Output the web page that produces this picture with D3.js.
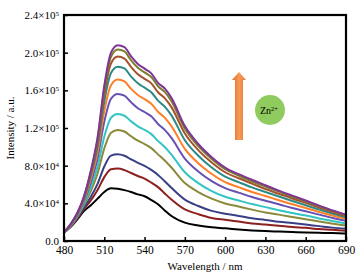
<!DOCTYPE html>
<html>
<head>
<style>
  body, html { margin: 0; padding: 0; background: #fff; }
  svg text { font-family: "Liberation Serif", "DejaVu Serif", serif; }
</style>
</head>
<body>
<svg id="svg" width="364" height="280"></svg>
<script src="https://d3js.org/d3.v7.min.js"></script>
<script>
// wavelengths (nm)
const wavelengths = [480, 485, 490, 495, 500, 505, 510, 515, 520, 525, 530, 535, 540, 545, 550,
  555, 560, 570, 580, 590, 600, 610, 620, 630, 640, 650, 660, 670, 680, 690]

// intensities, in units of 1e4 a.u., lowest (no Zn2+) to highest
const s0 = [0.9, 1.5, 2.3, 3.2, 3.8, 4.5, 5.2, 5.6, 5.55, 5.4, 5.2, 4.95, 4.75, 4.35, 3.9, 3.25, 2.65, 1.95, 1.65, 1.45, 1.35, 1.22, 1.12, 1.05, 1.0, 0.95, 0.9, 0.87, 0.84, 0.8]
const s1 = [0.9, 1.54, 2.4, 3.42, 4.32, 5.41, 6.78, 7.62, 7.69, 7.53, 7.22, 6.9, 6.62, 6.2, 5.72, 5.05, 4.4, 3.35, 2.85, 2.45, 2.25, 2.06, 1.87, 1.75, 1.63, 1.49, 1.4, 1.27, 1.2, 1.1]
const s2 = [0.9, 1.57, 2.47, 3.58, 4.69, 6.06, 7.91, 9.06, 9.21, 9.05, 8.66, 8.3, 7.98, 7.55, 7.02, 6.35, 5.65, 4.4, 3.72, 3.2, 2.9, 2.66, 2.41, 2.24, 2.04, 1.9, 1.74, 1.58, 1.42, 1.3]
const s3 = [0.9, 1.62, 2.59, 3.86, 5.32, 7.17, 9.83, 11.5, 11.8, 11.63, 11.12, 10.65, 10.3, 9.86, 9.2, 8.55, 7.8, 6.15, 5.2, 4.5, 3.99, 3.66, 3.33, 3.02, 2.8, 2.55, 2.3, 2.07, 1.84, 1.64]
const s4 = [0.9, 1.66, 2.66, 4.03, 5.72, 7.88, 11.08, 13.09, 13.48, 13.3, 12.7, 12.18, 11.8, 11.35, 10.63, 9.98, 9.18, 7.3, 6.15, 5.3, 4.7, 4.3, 3.92, 3.6, 3.26, 2.97, 2.7, 2.4, 2.12, 1.86]
const s5 = [0.9, 1.7, 2.76, 4.26, 6.24, 8.79, 12.66, 15.1, 15.62, 15.43, 14.72, 14.1, 13.7, 13.24, 12.43, 11.8, 10.95, 8.75, 7.38, 6.36, 5.61, 5.14, 4.67, 4.28, 3.9, 3.5, 3.16, 2.8, 2.45, 2.14]
const s6 = [0.9, 1.73, 2.83, 4.42, 6.61, 9.44, 13.79, 16.54, 17.14, 16.95, 16.15, 15.5, 15.06, 14.58, 13.72, 13.1, 12.2, 9.78, 8.25, 7.12, 6.25, 5.72, 5.21, 4.78, 4.33, 3.9, 3.5, 3.08, 2.7, 2.35]
const s7 = [0.9, 1.76, 2.9, 4.56, 6.95, 10.03, 14.81, 17.84, 18.51, 18.32, 17.45, 16.75, 16.28, 15.8, 14.9, 14.27, 13.34, 10.7, 9.05, 7.8, 6.83, 6.25, 5.69, 5.2, 4.72, 4.25, 3.8, 3.34, 2.92, 2.52]
const s8 = [0.9, 1.78, 2.94, 4.67, 7.2, 10.48, 15.6, 18.85, 19.58, 19.38, 18.46, 17.7, 17.22, 16.74, 15.8, 15.18, 14.22, 11.42, 9.65, 8.34, 7.3, 6.66, 6.1, 5.52, 5.02, 4.52, 4.05, 3.54, 3.08, 2.66]
const s9 = [0.9, 1.79, 2.98, 4.75, 7.39, 10.8, 16.16, 19.57, 20.34, 20.14, 19.18, 18.4, 17.9, 17.42, 16.43, 15.83, 14.85, 11.93, 10.08, 8.7, 7.62, 6.95, 6.32, 5.78, 5.24, 4.7, 4.22, 3.68, 3.2, 2.76]
const s10 = [0.9, 1.8, 3.0, 4.8, 7.5, 11.0, 16.5, 20.0, 20.8, 20.6, 19.6, 18.8, 18.3, 17.8, 16.8, 16.2, 15.2, 12.2, 10.3, 8.9, 7.8, 7.1, 6.5, 5.92, 5.35, 4.82, 4.3, 3.76, 3.25, 2.8]

const series = [s0, s1, s2, s3, s4, s5, s6, s7, s8, s9, s10]
const colors = ['#000000', '#8e1f1f', '#3a3f85', '#8a8a3a', '#33c4c4', '#6650b4',
  '#ff7f27', '#2c8a86', '#a5522c', '#7d7d2e', '#7e3596']

const xTicks = [480, 510, 540, 570, 600, 630, 660, 690]
const yTicks = [0, 4, 8, 12, 16, 20, 24]
const yTickMantissa = ['0.0', '4.0', '8.0', '1.2', '1.6', '2.0', '2.4']
const yTickExp = ['', '4', '4', '5', '5', '5', '5']

const svg = d3.select('#svg')
const mLeft = 64, mRight = 346, mTop = 15, mBottom = 241

const x = d3.scaleLinear().domain([480, 690]).range([mLeft, mRight])
const y = d3.scaleLinear().domain([0, 24]).range([mBottom, mTop])

// curves
const line = d3.line()
  .x((d, i) => x(wavelengths[i]))
  .y(d => y(d))
  .curve(d3.curveMonotoneX)

svg.append('g')
  .selectAll('path')
  .data(series)
  .enter()
  .append('path')
  .attr('d', line)
  .attr('fill', 'none')
  .attr('stroke', (d, i) => colors[i])
  .attr('stroke-width', 2)
  .attr('stroke-linejoin', 'round')

// frame
svg.append('rect')
  .attr('x', mLeft).attr('y', mTop)
  .attr('width', mRight - mLeft).attr('height', mBottom - mTop)
  .attr('fill', 'none')
  .attr('stroke', '#000')
  .attr('stroke-width', 2.2)

// x axis
const xAxis = svg.append('g')
  .attr('transform', `translate(0, ${mBottom})`)
  .call(d3.axisBottom(x).tickValues(xTicks).tickSize(-4).tickPadding(5).tickFormat(d3.format('d')))
xAxis.select('.domain').remove()
xAxis.selectAll('line').attr('stroke-width', 1.5)
xAxis.selectAll('text').attr('font-size', 11.5).attr('fill', '#000')

// y axis
const yAxis = svg.append('g')
  .attr('transform', `translate(${mLeft}, 0)`)
  .call(d3.axisLeft(y).tickValues(yTicks).tickSize(-4).tickPadding(5))
yAxis.select('.domain').remove()
yAxis.selectAll('line').attr('stroke-width', 1.5)
yAxis.selectAll('.tick text')
  .text(null)
  .attr('font-size', 11)
  .attr('fill', '#000')
  .each(function (d, i) {
    const t = d3.select(this)
    t.append('tspan').text(yTickMantissa[i] + (yTickExp[i] ? '×10' : ''))
    if (yTickExp[i]) {
      t.append('tspan').attr('dy', '-0.45em').attr('font-size', 7).text(yTickExp[i])
    }
  })

// axis titles
svg.append('text')
  .attr('x', (mLeft + mRight) / 2)
  .attr('y', 270)
  .attr('text-anchor', 'middle')
  .attr('font-size', 11)
  .text('Wavelength / nm')

svg.append('text')
  .attr('transform', `translate(14, ${(mTop + mBottom) / 2}) rotate(-90)`)
  .attr('text-anchor', 'middle')
  .attr('font-size', 11)
  .text('Intensity / a.u.')

// arrow with gradient
const defs = svg.append('defs')
const grad = defs.append('linearGradient').attr('id', 'arrowGrad')
  .attr('x1', '0').attr('x2', '1').attr('y1', '0').attr('y2', '0')
grad.append('stop').attr('offset', '0').attr('stop-color', '#d9692c')
grad.append('stop').attr('offset', '0.5').attr('stop-color', '#f89a55')
grad.append('stop').attr('offset', '1').attr('stop-color', '#e07a3a')

const ax = 239, aTop = 72, aBottom = 140
svg.append('path')
  .attr('d', `M${ax},${aTop} L${ax + 7},${aTop + 8} L${ax + 4},${aTop + 8} L${ax + 4},${aBottom}
    L${ax - 4},${aBottom} L${ax - 4},${aTop + 8} L${ax - 7},${aTop + 8} Z`)
  .attr('fill', 'url(#arrowGrad)')

// Zn2+ circle
svg.append('circle')
  .attr('cx', 270).attr('cy', 110).attr('r', 15)
  .attr('fill', '#8fcb5e')
const zn = svg.append('text')
  .attr('x', 269).attr('y', 114)
  .attr('text-anchor', 'middle')
  .attr('font-size', 10)
zn.append('tspan').text('Zn')
zn.append('tspan').attr('dy', '-0.5em').attr('font-size', 6.5).text('2+')
</script>
</body>
</html>
